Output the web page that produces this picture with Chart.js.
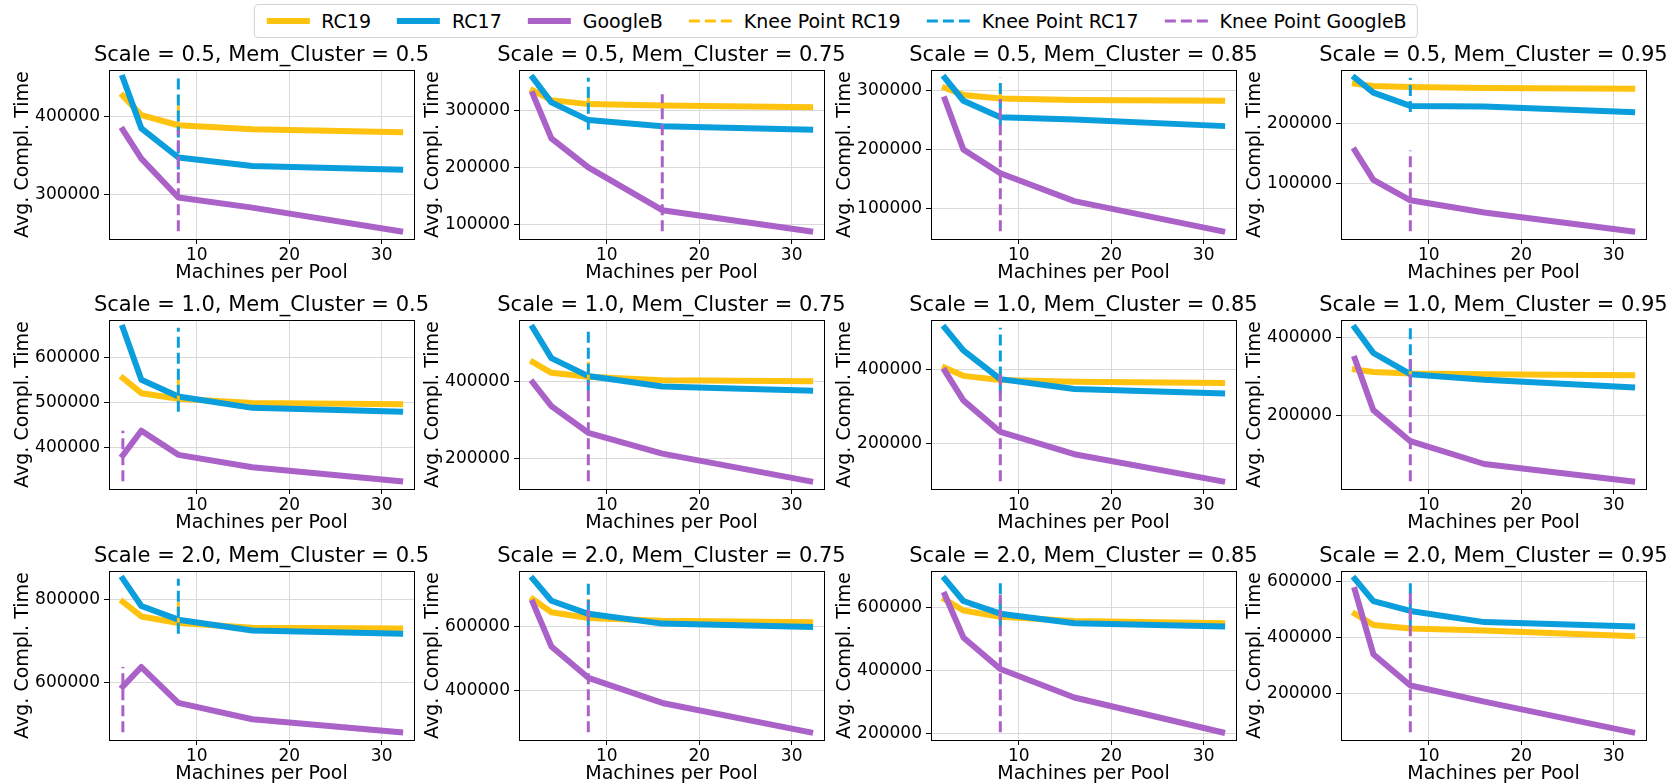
<!DOCTYPE html>
<html>
<head>
<meta charset="utf-8">
<script src="https://cdn.jsdelivr.net/npm/chart.js@4.4.0/dist/chart.umd.min.js"></script>
<style>
  body { margin: 0; background: #fff; width: 1671px; height: 783px; overflow: hidden; position: relative; font-family: "DejaVu Sans", sans-serif; }
  canvas { position: absolute; }
  .ttl { position: absolute; font-size: 21px; color: #000; white-space: nowrap; transform: translateX(-50%); line-height: 1; }
  #legend { position: absolute; left: 50%; top: 4px; transform: translateX(-50%); height: 32px; border: 1px solid #d4d4d4; border-radius: 4px;
            display: flex; align-items: center; padding: 0 10px; background: #fff; white-space: nowrap; font-size: 19px; }
  .item { display: flex; align-items: center; margin-right: 24px; }
  .item:last-child { margin-right: 0; }
  .item svg { margin-right: 10px; }
</style>
</head>
<body>
<div id="legend"></div>
<script>
// axe x commun
const machines = [2, 4, 8, 16, 32];
const scaleLabels = ["0.5", "1.0", "2.0"];
const memLabels = ["0.5", "0.75", "0.85", "0.95"];

// une ligne par sous-graphe (ligne par ligne : scale 0.5, 1.0, 2.0 ; colonnes mem 0.5 .. 0.95)
const rc19 = [
    [427000, 402000, 389000, 384000, 380000],
    [335000, 318000, 311000, 308500, 305700],
    [305000, 293000, 287000, 284500, 283000],
    [267600, 263700, 262000, 260400, 259300],
    [555000, 521700, 509400, 500000, 497100],
    [450800, 422900, 412700, 403400, 400800],
    [404400, 382400, 371000, 366500, 363000],
    [318800, 312100, 308000, 306300, 303800],
    [794500, 759200, 743500, 731800, 730200],
    [686700, 645900, 627600, 619400, 614300],
    [625000, 590000, 570000, 557000, 550000],
    [485000, 445000, 432000, 425000, 405000]
];
const rc17 = [
    [450000, 385000, 347500, 336500, 332000],
    [357000, 314000, 283000, 272000, 266000],
    [322000, 283000, 255000, 251000, 240000],
    [277500, 252700, 230200, 229100, 219800],
    [666700, 551400, 514500, 489100, 480400],
    [539800, 461000, 414400, 387300, 376300],
    [511900, 451100, 373600, 347100, 334800],
    [425100, 360700, 306300, 292100, 272800],
    [849400, 784300, 751400, 725500, 717600],
    [750000, 681600, 640800, 610200, 600000],
    [690000, 620000, 580000, 550000, 540000],
    [610000, 530000, 495000, 455000, 440000]
];
const googleB = [
    [383000, 346000, 296000, 283000, 252500],
    [328500, 251000, 200000, 125000, 88000],
    [285500, 200000, 159400, 112000, 60500],
    [155000, 105500, 71000, 50500, 18700],
    [384000, 438400, 384800, 357200, 326000],
    [397500, 336400, 267000, 212700, 140700],
    [395600, 316300, 231000, 171000, 97800],
    [345600, 214200, 134700, 76200, 31800],
    [590600, 637600, 551400, 512200, 480800],
    [675500, 538800, 440800, 362200, 270400],
    [640000, 505000, 405000, 315000, 205000],
    [570000, 340000, 228000, 170000, 60000]
];

// points de coude (machines par pool)
const kneeRC19 = [8, 8, 8, 8, 8, 8, 8, 8, 8, 8, 8, 8];
const kneeRC17 = [8, 8, 8, 8, 8, 8, 8, 8, 8, 8, 8, 8];
const kneeGoogleB = [8, 16, 8, 8, 2, 8, 8, 8, 2, 8, 8, 8];

// pas des graduations y
const yStep = [100000, 100000, 100000, 100000, 100000, 200000, 200000, 200000, 200000, 200000, 200000, 200000];

const COLORS = { rc19: "#FFC20E", rc17: "#0A9EDC", google: "#AB62C8" };

// placement des zones de tracé
const COL_X = [109, 519, 931, 1341];
const ROW_Y = [68, 318, 569];
const PLOT_W = 305, PLOT_H = 171;
const YW = 105, XH = 46, PAD_T = 12, PAD_R = 10;

// cadre complet autour de la zone de tracé (comme matplotlib)
const framePlugin = {
    id: "frame",
    afterDatasetsDraw(chart) {
        const { ctx, chartArea: a } = chart;
        ctx.save();
        ctx.strokeStyle = "#000";
        ctx.lineWidth = 1;
        ctx.strokeRect(Math.round(a.left) + 0.5, Math.round(a.top) + 0.5, Math.round(a.right - a.left), Math.round(a.bottom - a.top));
        ctx.restore();
    }
};

function lineSet(label, values, color, order) {
    return {
        label: label,
        data: machines.map((m, k) => ({ x: m, y: values[k] })),
        borderColor: color,
        borderWidth: 6,
        borderCapStyle: "square",
        borderJoinStyle: "round",
        pointRadius: 0,
        tension: 0,
        order: order
    };
}

function kneeSet(label, knee, values, color, order) {
    return {
        label: label,
        data: [{ x: knee, y: Math.min(...values) }, { x: knee, y: Math.max(...values) }],
        borderColor: color,
        borderWidth: 3,
        borderDash: [11, 5],
        pointRadius: 0,
        order: order
    };
}

function makePanel(i) {
    const row = Math.floor(i / 4), col = i % 4;
    const canvas = document.createElement("canvas");
    canvas.width = YW + PLOT_W + PAD_R;
    canvas.height = PAD_T + PLOT_H + XH;
    canvas.style.left = (COL_X[col] - YW) + "px";
    canvas.style.top = (ROW_Y[row] - PAD_T) + "px";
    document.body.appendChild(canvas);

    const title = document.createElement("div");
    title.className = "ttl";
    title.textContent = "Scale = " + scaleLabels[row] + ", Mem_Cluster = " + memLabels[col];
    title.style.left = (COL_X[col] + PLOT_W / 2) + "px";
    title.style.top = (ROW_Y[row] - 24) + "px";
    document.body.appendChild(title);

    const all = rc19[i].concat(rc17[i], googleB[i]);
    const lo = Math.min(...all), hi = Math.max(...all);
    const ymin = lo - 0.05 * (hi - lo), ymax = hi + 0.05 * (hi - lo);
    const xlo = machines[0], xhi = machines[machines.length - 1];
    const xmin = xlo - 0.05 * (xhi - xlo), xmax = xhi + 0.05 * (xhi - xlo);

    new Chart(canvas.getContext("2d"), {
        type: "line",
        data: {
            datasets: [
                lineSet("RC19", rc19[i], COLORS.rc19, 5),
                lineSet("RC17", rc17[i], COLORS.rc17, 4),
                lineSet("GoogleB", googleB[i], COLORS.google, 3),
                kneeSet("Knee Point RC19", kneeRC19[i], rc19[i], COLORS.rc19, 2),
                kneeSet("Knee Point RC17", kneeRC17[i], rc17[i], COLORS.rc17, 1),
                kneeSet("Knee Point GoogleB", kneeGoogleB[i], googleB[i], COLORS.google, 0)
            ]
        },
        options: {
            responsive: false,
            animation: false,
            layout: { padding: { top: PAD_T, right: PAD_R, left: 0, bottom: 0 } },
            plugins: { legend: { display: false }, tooltip: { enabled: false } },
            scales: {
                x: {
                    type: "linear",
                    min: xmin,
                    max: xmax,
                    afterBuildTicks: (axis) => {
                        const t = [];
                        for (let v = 10; v <= xmax; v += 10) if (v >= xmin) t.push({ value: v });
                        axis.ticks = t;
                    },
                    afterFit: (axis) => { axis.height = XH; },
                    grid: { color: "#d9d9d9", tickColor: "#000", tickLength: 5 },
                    border: { display: true, color: "#000" },
                    ticks: { color: "#000", padding: 1, maxRotation: 0, font: { family: "DejaVu Sans", size: 17 } },
                    title: { display: true, text: "Machines per Pool", color: "#000", padding: { top: 0, bottom: 1 }, font: { family: "DejaVu Sans", size: 19 } }
                },
                y: {
                    type: "linear",
                    min: ymin,
                    max: ymax,
                    afterBuildTicks: (axis) => {
                        const s = yStep[i], t = [];
                        for (let v = Math.ceil(ymin / s) * s; v <= ymax; v += s) t.push({ value: v });
                        axis.ticks = t;
                    },
                    afterFit: (axis) => { axis.width = YW; },
                    grid: { color: "#d9d9d9", tickColor: "#000", tickLength: 5 },
                    border: { display: true, color: "#000" },
                    ticks: { color: "#000", padding: 4, callback: (v) => String(v), font: { family: "DejaVu Sans", size: 17 } },
                    title: { display: true, text: "Avg. Compl. Time", color: "#000", padding: { top: 8, bottom: 0 }, font: { family: "DejaVu Sans", size: 19 } }
                }
            }
        },
        plugins: [framePlugin]
    });
}

// légende commune en haut
function buildLegend() {
    const items = [
        ["RC19", COLORS.rc19, false],
        ["RC17", COLORS.rc17, false],
        ["GoogleB", COLORS.google, false],
        ["Knee Point RC19", COLORS.rc19, true],
        ["Knee Point RC17", COLORS.rc17, true],
        ["Knee Point GoogleB", COLORS.google, true]
    ];
    const legend = document.getElementById("legend");
    items.forEach(([label, color, dashed]) => {
        const el = document.createElement("div");
        el.className = "item";
        const line = dashed
            ? `<line x1="2" y1="6" x2="45" y2="6" stroke="${color}" stroke-width="3" stroke-dasharray="11 5"/>`
            : `<line x1="2" y1="6" x2="45" y2="6" stroke="${color}" stroke-width="6"/>`;
        el.innerHTML = `<svg width="47" height="12">${line}</svg><span>${label}</span>`;
        legend.appendChild(el);
    });
}

buildLegend();
for (let i = 0; i < 12; i++) makePanel(i);
</script>
</body>
</html>
